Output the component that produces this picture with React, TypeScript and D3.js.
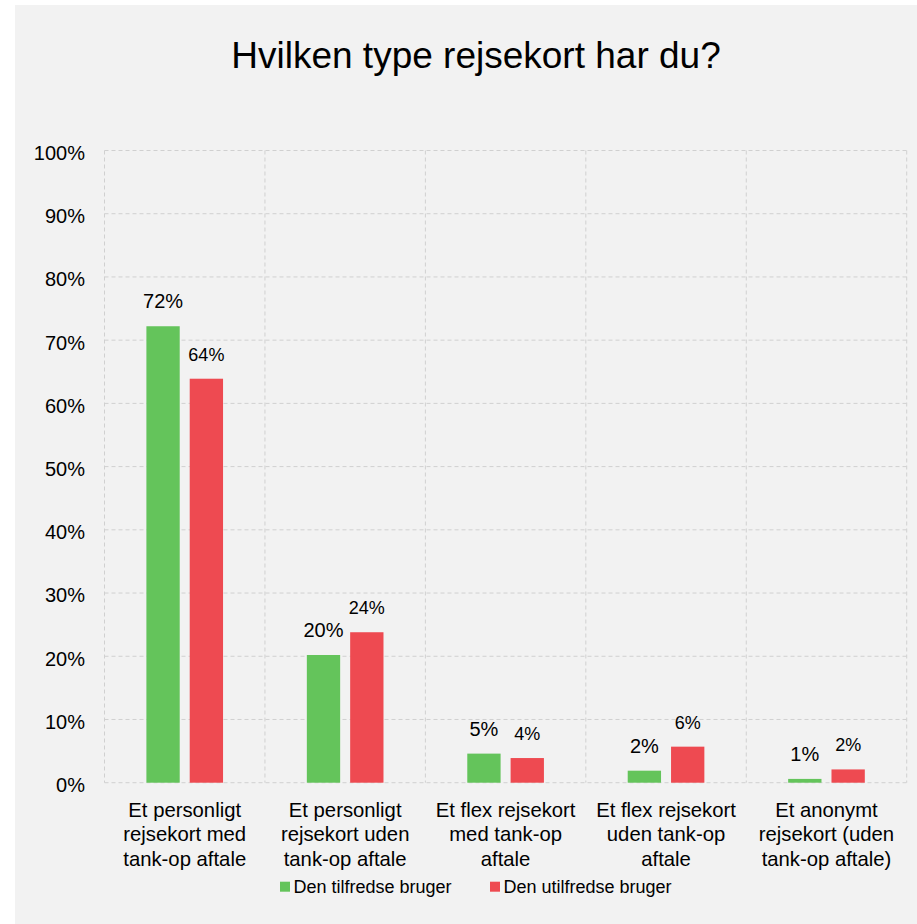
import React from "react";
import * as d3 from "d3";

const title = "Hvilken type rejsekort har du?";
const categories = [
  ["Et personligt", "rejsekort med", "tank-op aftale"],
  ["Et personligt", "rejsekort uden", "tank-op aftale"],
  ["Et flex rejsekort", "med tank-op", "aftale"],
  ["Et flex rejsekort", "uden tank-op", "aftale"],
  ["Et anonymt", "rejsekort (uden", "tank-op aftale)"],
];
const seriesNames = ["Den tilfredse bruger", "Den utilfredse bruger"];
const satisfied = [0.722, 0.202, 0.046, 0.019, 0.006];
const dissatisfied = [0.639, 0.238, 0.039, 0.057, 0.021];
const yTicks = [0, 0.1, 0.2, 0.3, 0.4, 0.5, 0.6, 0.7, 0.8, 0.9, 1];
const colors = ["#64c45b", "#ee4a51"];

const W = 917;
const H = 924;
const font = "'Liberation Sans', Arial, sans-serif";
const left = 104.5;
const right = 906.7;
const top = 150.5;
const bottom = 782.7;

const App = () => {
  const keys = categories.map((c) => c.join(" "));
  const x0 = d3.scaleBand<string>().domain(keys).range([left, right]).padding(0);
  const x1 = d3
    .scaleBand<string>()
    .domain(seriesNames)
    .range([0, x0.bandwidth()])
    .paddingInner(0.231)
    .paddingOuter(0.967);
  const y = d3.scaleLinear().domain([0, 1]).range([bottom, top]);
  const fmt = d3.format(".0%");
  const series = [satisfied, dissatisfied];
  const vLines = [...keys.map((k) => x0(k) as number), right];

  return (
    <svg
      width={W}
      height={H}
      style={{ position: "absolute", left: 0, top: 0, display: "block" }}
      fontFamily={font}
    >
      <rect x={0} y={0} width={W} height={H} fill="#fff" />
      <rect x={15} y={5} width={W - 15} height={H - 5} fill="#f2f2f2" />

      <text x={476} y={68} textAnchor="middle" fontSize={37} fill="#000">
        {title}
      </text>

      {/* grid */}
      <g stroke="#d0d0d0" strokeWidth={1} strokeDasharray="4,3">
        {yTicks.map((t) => (
          <line key={"h" + t} x1={left} x2={right} y1={y(t)} y2={y(t)} />
        ))}
        {vLines.map((v, i) => (
          <line key={"v" + i} x1={v} x2={v} y1={top} y2={bottom} />
        ))}
      </g>

      {/* y axis labels */}
      <g fontSize={20} fill="#000" textAnchor="end">
        {yTicks.map((t) => (
          <text key={t} x={85} y={y(t)} dy="0.47em">
            {fmt(t)}
          </text>
        ))}
      </g>

      {/* bars */}
      {series.map((vals, si) => (
        <g key={si}>
          {vals.map((v, ci) => {
            const bx = (x0(keys[ci]) as number) + (x1(seriesNames[si]) as number);
            return (
              <g key={ci}>
                <rect
                  x={bx}
                  y={y(v)}
                  width={x1.bandwidth()}
                  height={y(0) - y(v)}
                  fill={colors[si]}
                />
                <text
                  x={bx + x1.bandwidth() / 2}
                  y={y(v) - 18}
                  textAnchor="middle"
                  fontSize={si === 0 ? 20 : 18}
                  fill="#000"
                >
                  {fmt(v)}
                </text>
              </g>
            );
          })}
        </g>
      ))}

      {/* category labels */}
      <g fontSize={20.3} fill="#000" textAnchor="middle">
        {categories.map((lines, ci) => (
          <text key={ci} x={(x0(keys[ci]) as number) + x0.bandwidth() / 2} y={817}>
            {lines.map((l, li) => (
              <tspan key={li} x={(x0(keys[ci]) as number) + x0.bandwidth() / 2} y={817 + li * 24.3}>
                {l}
              </tspan>
            ))}
          </text>
        ))}
      </g>

      {/* legend */}
      <g fontSize={18} fill="#000">
        {seriesNames.map((n, i) => {
          const lx = [280, 490][i];
          return (
            <g key={n}>
              <rect x={lx} y={881.7} width={10} height={10} fill={colors[i]} />
              <text x={lx + 13.5} y={893.3}>
                {n}
              </text>
            </g>
          );
        })}
      </g>
    </svg>
  );
};

export default App;
